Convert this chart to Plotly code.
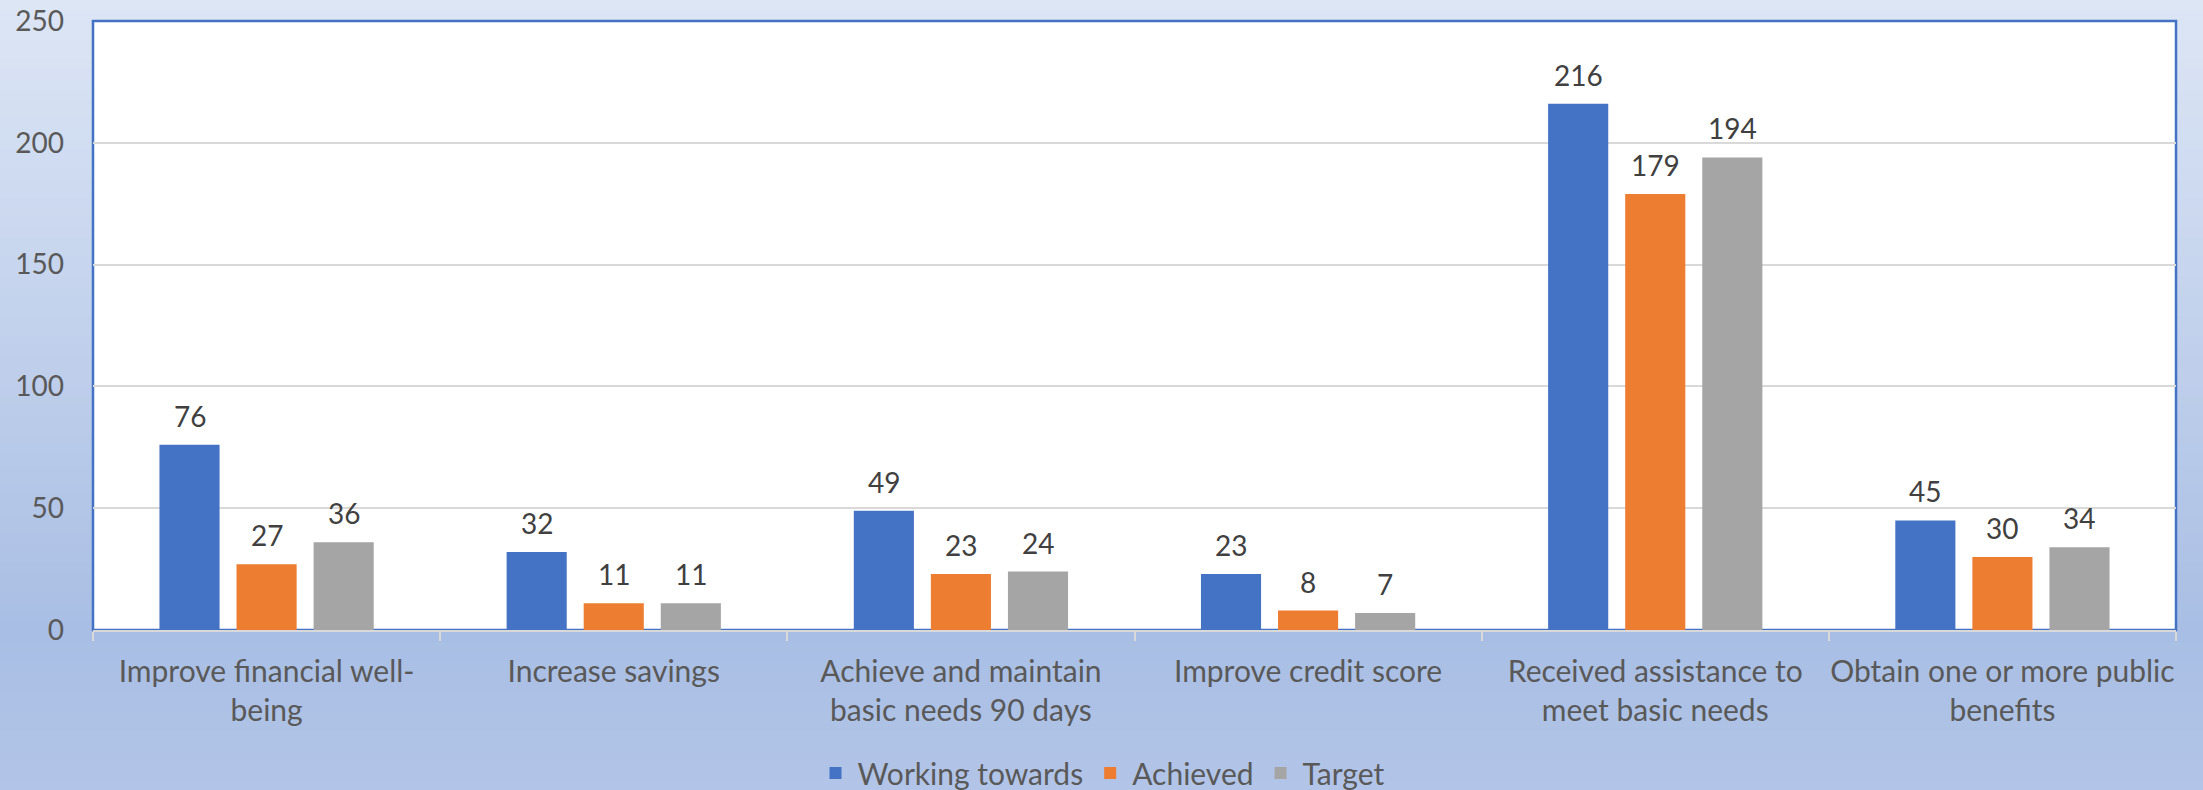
import plotly.graph_objects as go

categories = [
    "Improve financial well-<br>being",
    "Increase savings",
    "Achieve and maintain<br>basic needs 90 days",
    "Improve credit score",
    "Received assistance to<br>meet basic needs",
    "Obtain one or more public<br>benefits",
]
working_towards = [76, 32, 49, 23, 216, 45]
achieved = [27, 11, 23, 8, 179, 30]
target = [36, 11, 24, 7, 194, 34]

series = [
    ("Working towards", working_towards, "#4472c4"),
    ("Achieved", achieved, "#ed7d31"),
    ("Target", target, "#a5a5a5"),
]

W, H = 2203, 790
ML, MR, MT, MB = 93, 27, 21, 160
FONT = "Lato"
BARGAP, GROUPGAP = 0.334, 0.22

pw = W - ML - MR
ph = H - MT - MB
slot = pw / len(categories) * (1 - BARGAP) / len(series)

fig = go.Figure()
annotations = []
for k, (name, vals, color) in enumerate(series):
    fig.add_trace(go.Bar(
        name=name, x=categories, y=vals,
        marker=dict(color=color, line=dict(width=0)),
    ))
    # data labels above each bar
    for cat, v in zip(categories, vals):
        annotations.append(dict(
            x=cat, y=v, xref="x", yref="y", text=str(v), showarrow=False,
            xshift=(k - 1) * slot, yshift=10, yanchor="bottom",
            font=dict(family=FONT, size=28, color="#404040"),
        ))


def mix(c1, c2, t):
    return "#%02x%02x%02x" % tuple(round(a + (b - a) * t) for a, b in zip(c1, c2))


# background gradient (top light -> darker near bottom -> slightly lighter)
stops = [(0.0, (0xdd, 0xe6, 0xf5)), (0.8, (0xa9, 0xbe, 0xe4)), (1.0, (0xb2, 0xc5, 0xe8))]
shapes = []
n = 80
for i in range(n):
    f0, f1 = i / n, (i + 1) / n
    fm = (f0 + f1) / 2
    for (a, ca), (b, cb) in zip(stops, stops[1:]):
        if a <= fm <= b:
            col = mix(ca, cb, (fm - a) / (b - a))
            break
    y_top = 1 + MT / ph - f0 * H / ph
    y_bot = 1 + MT / ph - f1 * H / ph
    if i == 0:
        y_top += 0.5
    if i == n - 1:
        y_bot -= 0.5
    shapes.append(dict(type="rect", xref="paper", yref="paper",
                       x0=-0.5, x1=1.5, y0=y_bot - 0.002, y1=y_top,
                       fillcolor=col, line=dict(width=0), layer="below"))
shapes.append(dict(type="rect", xref="paper", yref="paper", x0=0, x1=1, y0=0, y1=1,
                   fillcolor="white", line=dict(color="#4472c4", width=2.5), layer="below"))

fig.update_layout(
    width=W, height=H,
    margin=dict(l=ML, r=MR, t=MT, b=MB, autoexpand=False),
    paper_bgcolor="#c5d3ee",
    plot_bgcolor="white",
    barmode="group",
    bargap=BARGAP,
    bargroupgap=GROUPGAP,
    font=dict(family=FONT, size=28, color="#595959"),
    shapes=shapes,
    annotations=annotations,
    xaxis=dict(
        automargin=False, tickangle=0,
        showline=True, linecolor="#d9d9d9", linewidth=2,
        ticks="outside", tickson="boundaries", ticklen=9, tickcolor="#d9d9d9", tickwidth=2,
        tickfont=dict(family=FONT, size=30, color="#595959"),
        ticklabelstandoff=14,
        showgrid=False,
    ),
    yaxis=dict(
        automargin=False,
        range=[0, 250], dtick=50, showgrid=True, gridcolor="#d9d9d9", gridwidth=1.5,
        zeroline=False, showline=False, ticks="",
        tickfont=dict(family=FONT, size=28, color="#595959"),
        ticklabelstandoff=28,
    ),
    legend=dict(
        orientation="h", xref="container", yref="container",
        x=0.5, xanchor="center", y=0.0215, yanchor="middle",
        font=dict(family=FONT, size=30, color="#595959"),
        bgcolor="rgba(0,0,0,0)", itemwidth=34,
    ),
)

fig.write_html("out.html", config={"displayModeBar": False},
               post_script="document.body.style.margin = '0px';")
